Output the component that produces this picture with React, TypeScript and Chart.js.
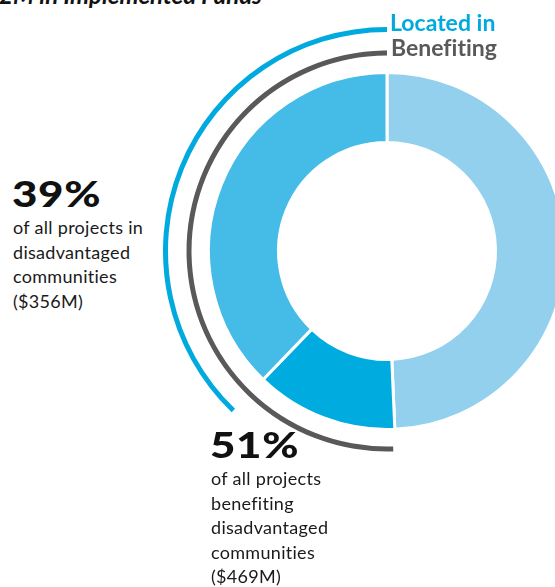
import React, { useEffect, useRef } from "react";
import { Chart, registerables } from "chart.js";

Chart.register(...registerables);

// Main doughnut segments, clockwise from 12 o'clock (percent of implemented funds)
const segmentLabels = ["Neither located in nor benefiting", "Benefiting only", "Located in"];
const segmentValues = [49.3, 12.9, 37.8];

// Outer indicator arcs: [hidden part, visible part], clockwise from 12 o'clock
const locatedInArc = [62.2, 37.8];
const benefitingArc = [49.5, 50.5];

const segmentColors = ["#92d0ee", "#00acdf", "#45bbe7"];
const locatedColor = "#00aadf";
const benefitingColor = "#59595b";

const titleText = "2M in Implemented Funds";
const locatedLabel = "Located in";
const benefitingLabel = "Benefiting";
const locatedPct = "39%";
const locatedLines = ["of all projects in", "disadvantaged", "communities", "($356M)"];
const benefitingPct = "51%";
const benefitingLines = ["of all projects", "benefiting", "disadvantaged", "communities", "($469M)"];

const FONT = "Lato, 'Open Sans', sans-serif";
const CLEAR = "rgba(0,0,0,0)";

export default function App() {
  const canvasRef = useRef<HTMLCanvasElement | null>(null);

  useEffect(() => {
    if (!canvasRef.current) return;
    const chart = new Chart(canvasRef.current, {
      type: "doughnut",
      data: {
        labels: segmentLabels,
        datasets: [
          {
            label: locatedLabel,
            data: locatedInArc,
            backgroundColor: [CLEAR, locatedColor],
            borderWidth: 0,
            hoverBorderWidth: 0,
            offset: 0,
            hoverOffset: 0,
            weight: 5,
          } as any,
          {
            label: "gap1",
            data: [100],
            backgroundColor: [CLEAR],
            borderWidth: 0,
            hoverBorderWidth: 0,
            weight: 18.5,
          } as any,
          {
            label: benefitingLabel,
            data: benefitingArc,
            backgroundColor: [CLEAR, benefitingColor],
            borderWidth: 0,
            hoverBorderWidth: 0,
            weight: 5,
          } as any,
          {
            label: "gap2",
            data: [100],
            backgroundColor: [CLEAR],
            borderWidth: 0,
            hoverBorderWidth: 0,
            weight: 17,
          } as any,
          {
            label: "Implemented funds",
            data: segmentValues,
            backgroundColor: segmentColors,
            borderColor: "#ffffff",
            borderWidth: 3,
            hoverBorderWidth: 3,
            weight: 70,
          } as any,
        ],
      },
      options: {
        responsive: false,
        animation: false,
        events: [],
        cutout: "48.44%",
        layout: { padding: 0 },
        plugins: {
          legend: { display: false },
          tooltip: { enabled: false },
        },
      } as any,
    });
    return () => chart.destroy();
  }, []);

  const abs = (extra: React.CSSProperties): React.CSSProperties => ({
    position: "absolute",
    whiteSpace: "nowrap",
    margin: 0,
    fontVariantLigatures: "none",
    fontFeatureSettings: '"liga" 0, "clig" 0',
    ...extra,
  });

  const pctStyle = (left: number, top: number) =>
    abs({
      left,
      top,
      fontSize: 36,
      lineHeight: "36px",
      fontWeight: 900,
      letterSpacing: "0.5px",
      color: "#111",
      transform: "scaleX(1.22)",
      transformOrigin: "left top",
    });

  const bodyStyle = (left: number, top: number) =>
    abs({
      left,
      top,
      fontSize: 18,
      lineHeight: "24.5px",
      fontWeight: 400,
      letterSpacing: "0.3px",
      color: "#1a1a1a",
    });

  return (
    <div
      style={{
        position: "absolute",
        left: 0,
        top: 0,
        width: 555,
        height: 587,
        overflow: "hidden",
        background: "#ffffff",
        fontFamily: FONT,
      }}
    >
      <canvas
        ref={canvasRef}
        width={448}
        height={448}
        style={{ position: "absolute", left: 163, top: 27, width: 448, height: 448 }}
      />
      <div
        style={abs({
          left: -1,
          top: -17.5,
          fontSize: 24,
          lineHeight: "24px",
          fontWeight: 700,
          fontStyle: "italic",
          color: "#111",
        })}
      >
        {titleText}
      </div>
      <div
        style={abs({
          left: 390,
          top: 11,
          fontSize: 23,
          lineHeight: "23px",
          fontWeight: 700,
          color: locatedColor,
        })}
      >
        {locatedLabel}
      </div>
      <div
        style={abs({
          left: 391,
          top: 36,
          fontSize: 23,
          lineHeight: "23px",
          fontWeight: 700,
          color: benefitingColor,
        })}
      >
        {benefitingLabel}
      </div>
      <div style={pctStyle(12, 175)}>{locatedPct}</div>
      <div style={bodyStyle(13, 215)}>
        {locatedLines.map((l) => (
          <div key={l}>{l}</div>
        ))}
      </div>
      <div style={pctStyle(210, 426)}>{benefitingPct}</div>
      <div style={bodyStyle(211, 466)}>
        {benefitingLines.map((l) => (
          <div key={l}>{l}</div>
        ))}
      </div>
    </div>
  );
}
